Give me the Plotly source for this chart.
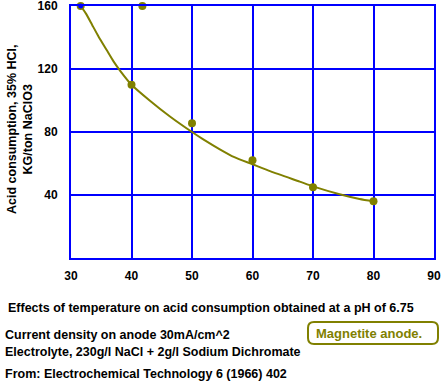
import plotly.graph_objects as go

# Measured points
temp = [31.6, 40, 50, 60, 70, 80]
acid = [160, 110, 85.5, 62, 45, 36]
# Extra marker seen at the top edge
extra_x = [41.8]
extra_y = [160]
# Fitted curve
curve_x = [31.6, 32.5, 33.5, 34.5, 35.9, 37, 38.1, 40, 43, 46.3, 50, 51.8, 54.6, 57, 60, 63, 67.8, 70, 74.4, 77.7, 80]
curve_y = [160, 155, 148, 141, 132, 125, 119, 110, 100, 90, 80, 75.5, 69, 64, 59.5, 55, 48.5, 45.5, 40.5, 37.5, 36]
# Blue start point
blue_x = [31.6]
blue_y = [160]

x_ticks = [30, 40, 50, 60, 70, 80, 90]
y_ticks = [40, 80, 120, 160]

OLIVE = "#808000"
BLUE = "#0000FF"
FONT = "Liberation Sans, Arial, sans-serif"

fig = go.Figure()
fig.add_trace(go.Scatter(x=curve_x, y=curve_y, mode="lines",
                         line=dict(color=OLIVE, width=2, shape="spline", smoothing=0.6),
                         hoverinfo="skip", cliponaxis=False))
fig.add_trace(go.Scatter(x=temp, y=acid, mode="markers",
                         marker=dict(color=OLIVE, size=8), cliponaxis=False))
fig.add_trace(go.Scatter(x=extra_x, y=extra_y, mode="markers",
                         marker=dict(color=OLIVE, size=8), cliponaxis=False))
fig.add_trace(go.Scatter(x=blue_x, y=blue_y, mode="markers",
                         marker=dict(color=BLUE, size=5), cliponaxis=False))

fig.update_layout(
    width=442, height=384,
    margin=dict(l=71, r=8, t=6, b=126),
    paper_bgcolor="white", plot_bgcolor="white",
    showlegend=False,
    font=dict(family=FONT, size=12, color="black"),
    xaxis=dict(range=[30, 90], tickvals=x_ticks, ticktext=[str(v) for v in x_ticks],
               showgrid=True, gridcolor=BLUE, gridwidth=2, automargin=False,
               showline=True, linecolor=BLUE, linewidth=2, mirror=True,
               ticks="inside", ticklen=7, tickwidth=2, tickcolor=BLUE,
               ticklabelstandoff=6, zeroline=False, ticklabeloverflow="allow",
               tickfont=dict(family=FONT, size=12, color="black", weight="bold")),
    yaxis=dict(range=[0, 160], tickvals=y_ticks, ticktext=[str(v) for v in y_ticks],
               showgrid=True, gridcolor=BLUE, gridwidth=2, automargin=False,
               showline=True, linecolor=BLUE, linewidth=2, mirror=True,
               ticks="", ticklabelstandoff=9, zeroline=False, ticklabeloverflow="allow",
               tickfont=dict(family=FONT, size=12, color="black", weight="bold")),
)

TS = 12.5

def ann(text, x, y, **kw):
    d = dict(text=text, x=x, y=y, xref="paper", yref="paper", showarrow=False,
             font=dict(family=FONT, size=TS, color="black", weight="bold"))
    d.update(kw)
    fig.add_annotation(**d)

W = 442 - 71 - 8
H = 384 - 6 - 126
def px(x):
    return (x - 71) / W
def py(y):
    return (258 - y) / H

ann("Acid consumption, 35% HCl,<br>KG/ton NaClO3", px(20), py(130), textangle=-90,
    xanchor="center", yanchor="middle")
ann("Effects of temperature on acid consumption obtained at a pH of 6.75",
    px(6), py(308), xanchor="left", yanchor="middle")
ann("Current density on anode 30mA/cm^2", px(3), py(335), xanchor="left", yanchor="middle")
ann("Electrolyte, 230g/l NaCl + 2g/l Sodium Dichromate", px(3), py(352),
    xanchor="left", yanchor="middle")
ann("From: Electrochemical Technology 6 (1966) 402", px(3), py(374),
    xanchor="left", yanchor="middle")

# rounded box
x0, x1, y0, y1, r = px(308), px(438), py(344), py(322), 6
rx, ry = r / W, r / H
path = (f"M {x0+rx},{y0} L {x1-rx},{y0} Q {x1},{y0} {x1},{y0+ry} "
        f"L {x1},{y1-ry} Q {x1},{y1} {x1-rx},{y1} L {x0+rx},{y1} "
        f"Q {x0},{y1} {x0},{y1-ry} L {x0},{y0+ry} Q {x0},{y0} {x0+rx},{y0} Z")
fig.add_shape(type="path", xref="paper", yref="paper", path=path,
              line=dict(color=OLIVE, width=2), fillcolor="white")
ann("Magnetite anode.", px(369), py(333), xanchor="center", yanchor="middle",
    font=dict(family=FONT, size=13, color=OLIVE, weight="bold"))

fig.write_html("out.html", config={"displayModeBar": False},
               post_script="document.body.style.margin='0';document.body.style.overflow='hidden';")
